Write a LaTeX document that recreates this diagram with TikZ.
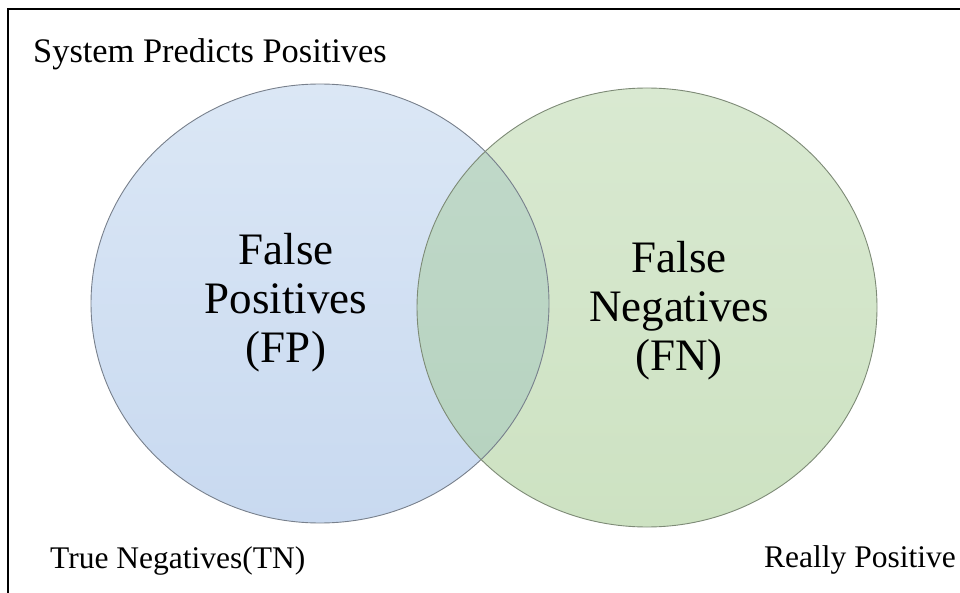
\documentclass[tikz,border=0pt]{standalone}
\usepackage{fontspec}
\setmainfont{Liberation Serif}
\usetikzlibrary{positioning}
\definecolor{predtop}{RGB}{219,231,245}
\definecolor{predbot}{RGB}{200,217,240}
\definecolor{realtop}{RGB}{217,233,209}
\definecolor{realbot}{RGB}{205,226,194}
\definecolor{bothtop}{RGB}{193,217,202}
\definecolor{bothbot}{RGB}{181,210,190}
\definecolor{predline}{RGB}{120,128,140}
\definecolor{realline}{RGB}{125,138,118}

\begin{document}
\begin{tikzpicture}[x=1pt, y=-1pt,
    setring/.style={line width=0.9pt},
    bigtext/.style={align=center, inner sep=0pt, font=\fontsize{45}{49}\selectfont},
    cornertext/.style={anchor=base west, inner sep=0pt}]
  \useasboundingbox (0,0) rectangle (960,593);
  % frame
  \draw[line width=1.2pt] (8,593) -- (8,9) -- (960,9);
  % the two sets
  \coordinate (pred) at (320,303.5);
  \coordinate (real) at (647,307.5);
  \shade[top color=predtop, bottom color=predbot] (pred) ellipse (229pt and 219.5pt);
  \shade[top color=realtop, bottom color=realbot] (real) ellipse (230pt and 219.5pt);
  \begin{scope}
    \clip (pred) ellipse (229pt and 219.5pt);
    \shade[top color=bothtop, bottom color=bothbot] (real) ellipse (230pt and 219.5pt);
  \end{scope}
  \draw[setring, predline] (pred) ellipse (229pt and 219.5pt);
  \draw[setring, realline] (real) ellipse (230pt and 219.5pt);
  % labels
  \node[bigtext] (fp) at (286,302.5) {False\\Positives\\(FP)};
  \node[bigtext] (fn) at (679,311) {False\\Negatives\\(FN)};
  \node[cornertext, font=\fontsize{34.4}{40}\selectfont] (sys) at (33,63) {System Predicts Positives};
  \node[cornertext, font=\fontsize{31.5}{36}\selectfont] (tn) at (50,568) {True Negatives(TN)};
  \node[cornertext, font=\fontsize{31.5}{36}\selectfont] (rp) at (764,567) {Really Positive};
\end{tikzpicture}
\end{document}
